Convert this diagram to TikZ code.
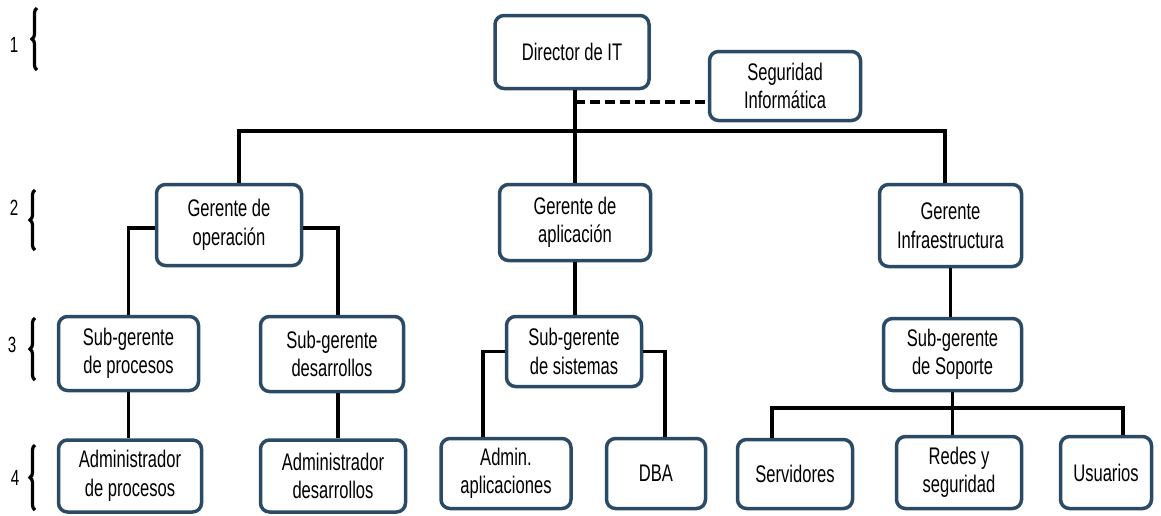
\documentclass[tikz,border=0pt]{standalone}
\usepackage{fontspec}
\setmainfont{Liberation Sans}[FakeStretch=0.69]
\usetikzlibrary{decorations.pathreplacing}
\definecolor{boxblue}{HTML}{2B4A66}
\tikzset{
  orgbox/.style={draw=boxblue, line width=3.5pt, rounded corners=9pt, fill=white,
    align=center, inner sep=2pt, font=\fontsize{24}{28.5}\selectfont},
  link/.style={line width=3.5pt, black},
  buslink/.style={line width=4.5pt, black},
  dashlink/.style={line width=4pt, black, dash pattern=on 10pt off 5pt},
  lvl/.style={font=\fontsize{22}{26}\selectfont},
  lbrace/.style={line width=3.2pt, decorate, decoration={brace, amplitude=5pt}}
}
\begin{document}
\begin{tikzpicture}[x=1pt,y=-1pt]
\useasboundingbox (0,0) rectangle (1161,515);
% boxes
\node[orgbox, minimum width=154pt, minimum height=73pt] (dir) at (572,52) {Director de IT};
\node[orgbox, minimum width=151pt, minimum height=69pt] (seg) at (785,86) {Seguridad\\Informática};
\node[orgbox, minimum width=145pt, minimum height=81pt] (gop) at (229,225) {Gerente de\\operación};
\node[orgbox, minimum width=151pt, minimum height=76pt] (gap) at (575,222.5) {Gerente de\\aplicación};
\node[orgbox, minimum width=142pt, minimum height=82pt] (ginf) at (950.5,225.5) {Gerente\\Infraestructura};
\node[orgbox, minimum width=140pt, minimum height=74pt] (sproc) at (128.5,353.5) {Sub-gerente\\de procesos};
\node[orgbox, minimum width=143pt, minimum height=75pt] (sdes) at (332,354) {Sub-gerente\\desarrollos};
\node[orgbox, minimum width=135pt, minimum height=70pt] (ssis) at (574,351.5) {Sub-gerente\\de sistemas};
\node[orgbox, minimum width=138pt, minimum height=72pt] (ssop) at (952.5,354.5) {Sub-gerente\\de Soporte};
\node[orgbox, minimum width=143pt, minimum height=72pt] (aproc) at (130,476) {Administrador\\de procesos};
\node[orgbox, minimum width=145pt, minimum height=72pt] (ades) at (333,476) {Administrador\\desarrollos};
\node[orgbox, minimum width=130pt, minimum height=70pt] (aapl) at (506,473.5) {Admin.\\aplicaciones};
\node[orgbox, minimum width=99pt, minimum height=70pt] (dba) at (656,473.5) {DBA};
\node[orgbox, minimum width=115pt, minimum height=69pt] (serv) at (795,474) {Servidores};
\node[orgbox, minimum width=125pt, minimum height=72pt] (redes) at (959,472.5) {Redes y\\seguridad};
\node[orgbox, minimum width=91pt, minimum height=72pt] (usu) at (1106,472.5) {Usuarios};
% coordinates
\coordinate (busL) at (239,131);
\coordinate (busR) at (945,131);
\coordinate (dj) at (575,102);
\coordinate (sbL) at (772,408);
\coordinate (sbR) at (1123,408);
% connectors
\draw[link] (gap.north) -- (gap.north |- dir.south);
\draw[dashlink] (dj) -- (dj -| seg.west);
\draw[link] (busL) -- (busL |- gop.north);
\draw[link] (busR) -- (busR |- ginf.north);
\draw[buslink] ([xshift=-2pt]busL) -- ([xshift=2pt]busR);
\draw[link] ([yshift=-3pt]gop.west) -| (sproc.north);
\draw[link] ([yshift=-3pt]gop.east) -| ([xshift=6pt]sdes.north);
\draw[link] (sproc.south) -- (sproc.south |- aproc.north);
\draw[link] ([xshift=6pt]sdes.south) -- ([xshift=6pt]sdes.south |- ades.north);
\draw[link] (gap.south) -- (gap.south |- ssis.north);
\draw[link] (ssis.west) -| ([xshift=-23pt]aapl.north);
\draw[link] (ssis.east) -| ([xshift=9pt]dba.north);
\draw[link] (ginf.south) -- (ginf.south |- ssop.north);
\draw[link] (ssop.south) -- (ssop.south |- sbL);
\draw[buslink] ([xshift=-2pt]sbL) -- ([xshift=2pt]sbR);
\draw[link] (sbL) -- (sbL |- serv.north);
\draw[link] (ssop.south |- sbL) -- (ssop.south |- redes.north);
\draw[link] (sbR) -- (sbR |- usu.north);
% level labels
\node[lvl] (l1) at (14,45) {1};
\node[lvl] (l2) at (14,208) {2};
\node[lvl] (l3) at (12,345) {3};
\node[lvl] (l4) at (15,478) {4};
\draw[lbrace] (37,70) -- (37,8);
\draw[lbrace] (35,250) -- (35,190);
\draw[lbrace] (35,380) -- (35,318);
\draw[lbrace] (35,510) -- (35,445);
\end{tikzpicture}
\end{document}
